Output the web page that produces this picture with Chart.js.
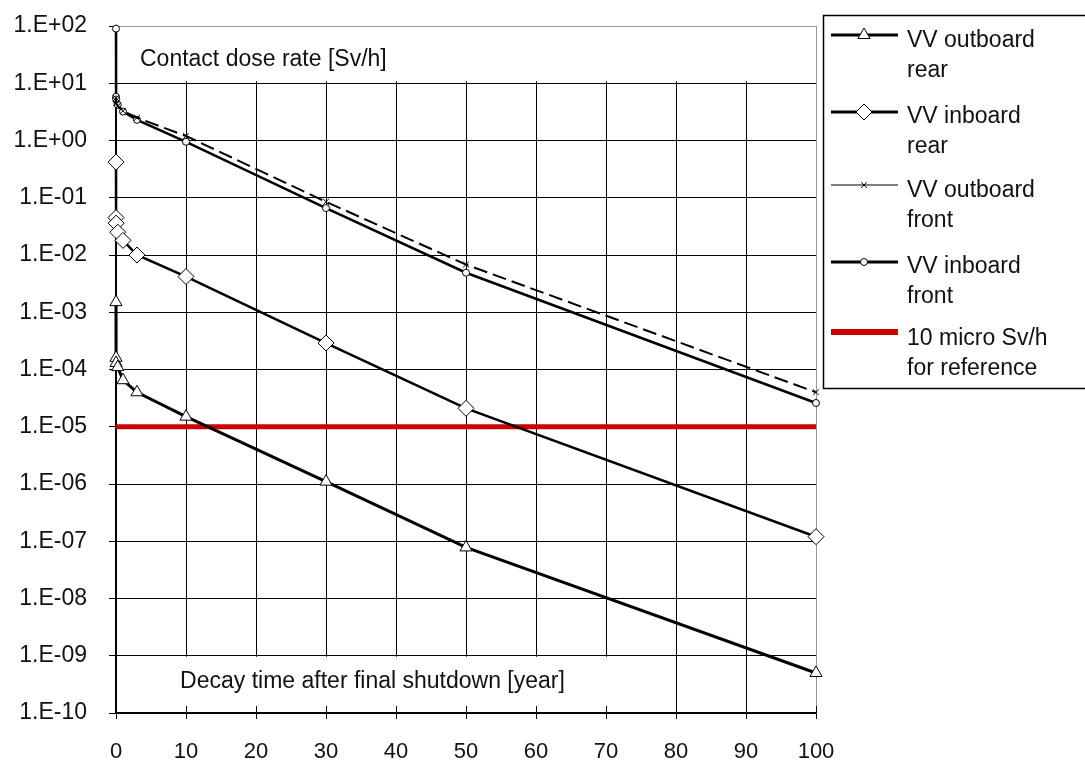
<!DOCTYPE html>
<html>
<head>
<meta charset="utf-8">
<script src="https://cdn.jsdelivr.net/npm/chart.js@4.4.1/dist/chart.umd.min.js"></script>
<style>
  body { margin: 0; background: #fff; }
  #wrap { width: 1085px; height: 760px; position: relative; }
</style>
</head>
<body>
<div id="wrap"><canvas id="chartCanvas"></canvas></div>
<script>
// decay time after final shutdown [year]
var times = [0, 0.001, 0.02, 0.25, 1, 3, 10, 30, 50, 100];

// contact dose rate [Sv/h]
var outboardRear  = [1.5e-3, 1.6e-4, 1.3e-4, 1.1e-4, 6.5e-5, 4.0e-5, 1.5e-5, 1.1e-6, 7.8e-8, 5.0e-10];
var inboardRear   = [0.42, 0.045, 0.036, 0.025, 0.018, 0.010, 4.2e-3, 2.9e-4, 2.1e-5, 1.2e-7];
var outboardFront = [5.5, 5.0, 4.5, 4.0, 3.3, 2.5, 1.2, 0.085, 6.8e-3, 4.0e-5];
var inboardFront  = [90, 5.8, 5.2, 4.2, 3.2, 2.3, 0.95, 0.066, 4.9e-3, 2.6e-5];
var refLimit = 1e-5;
var refRange = [0, 100];

var yTicks = [1e-10, 1e-9, 1e-8, 1e-7, 1e-6, 1e-5, 1e-4, 1e-3, 1e-2, 1e-1, 1, 10, 100];
var xTicks = [0, 10, 20, 30, 40, 50, 60, 70, 80, 90, 100];

var legendLabels = [
    ["VV outboard", "rear"],
    ["VV inboard", "rear"],
    ["VV outboard", "front"],
    ["VV inboard", "front"],
    ["10 micro Sv/h", "for reference"]
];

function toPoints(values) {
    var pts = [];
    for (var i = 0; i < values.length; i++) {
        pts.push({ x: times[i], y: values[i] });
    }
    return pts;
}

function expLabel(v) {
    var e = Math.round(Math.log10(v));
    var s = e < 0 ? "-" : "+";
    var a = Math.abs(e);
    return "1.E" + s + (a < 10 ? "0" + a : a);
}

var FONT = "'Liberation Sans', Arial, sans-serif";
Chart.defaults.font.family = FONT;
Chart.defaults.font.size = 23;
Chart.defaults.color = "#111";

// white boxes with the axis titles, drawn over the grid
var titleBoxes = {
    id: "titleBoxes",
    beforeDatasetsDraw: function (chart) {
        var ctx = chart.ctx;
        var xs = chart.scales.x, ys = chart.scales.y;
        var a = chart.chartArea;
        ctx.save();
        ctx.fillStyle = "#fff";
        ctx.fillRect(a.left + 3, a.top + 1, a.right - a.left - 4, ys.getPixelForValue(10) - a.top - 3);
        var bx = xs.getPixelForValue(8.3);
        ctx.fillRect(bx, ys.getPixelForValue(1e-9) + 1, xs.getPixelForValue(80) - 1 - bx, a.bottom - ys.getPixelForValue(1e-9) - 2);
        // small tick marks on the inner side of the x axis
        ctx.strokeStyle = "#000";
        ctx.lineWidth = 1;
        for (var i = 0; i < xTicks.length; i++) {
            var px = Math.round(xs.getPixelForValue(xTicks[i])) + 0.5;
            ctx.beginPath();
            ctx.moveTo(px, a.bottom - 7);
            ctx.lineTo(px, a.bottom);
            ctx.stroke();
        }
        ctx.fillStyle = "#111";
        ctx.font = "23px " + FONT;
        ctx.textBaseline = "alphabetic";
        ctx.fillText("Contact dose rate [Sv/h]", a.left + 24, 66);
        ctx.fillText("Decay time after final shutdown [year]", bx + 6, 688);
        ctx.restore();
    }
};

// legend box on the right
var sideLegend = {
    id: "sideLegend",
    afterDraw: function (chart) {
        var ctx = chart.ctx;
        var lineY = [35, 112, 185, 262, 332];
        var base1 = [47, 123, 197, 273, 345];
        ctx.save();
        ctx.fillStyle = "#fff";
        ctx.strokeStyle = "#000";
        ctx.lineWidth = 1.5;
        ctx.fillRect(823, 15, 300, 373);
        ctx.strokeRect(823.5, 15.5, 300, 373);
        for (var i = 0; i < chart.data.datasets.length; i++) {
            var ds = chart.data.datasets[i];
            var y = lineY[i];
            ctx.save();
            ctx.strokeStyle = ds.borderColor;
            ctx.lineWidth = ds.legendWidth;
            ctx.setLineDash([]);
            ctx.beginPath();
            ctx.moveTo(831, y);
            ctx.lineTo(898, y);
            ctx.stroke();
            if (ds.pointRadius > 0) {
                ctx.fillStyle = ds.pointBackgroundColor;
                ctx.strokeStyle = ds.pointBorderColor;
                ctx.lineWidth = ds.pointBorderWidth;
                Chart.helpers.drawPoint(ctx, {
                    pointStyle: ds.pointStyle,
                    radius: ds.pointRadius,
                    rotation: 0,
                    borderWidth: ds.pointBorderWidth
                }, 864, y);
            }
            ctx.restore();
            ctx.fillStyle = "#111";
            ctx.font = "23px " + FONT;
            ctx.fillText(legendLabels[i][0], 907, base1[i]);
            ctx.fillText(legendLabels[i][1], 907, base1[i] + 30);
        }
        ctx.restore();
    }
};

var ctx = document.getElementById("chartCanvas").getContext("2d");
new Chart(ctx, {
    type: "line",
    data: {
        datasets: [{
            label: "VV outboard rear",
            data: toPoints(outboardRear),
            borderColor: "#000",
            borderWidth: 3,
            legendWidth: 3,
            pointStyle: "triangle",
            pointRadius: 7,
            pointBackgroundColor: "#fff",
            pointBorderColor: "#000",
            pointBorderWidth: 1,
            clip: false
        }, {
            label: "VV inboard rear",
            data: toPoints(inboardRear),
            borderColor: "#000",
            borderWidth: 2.5,
            legendWidth: 3,
            pointStyle: "rectRot",
            pointRadius: 8,
            pointBackgroundColor: "#fff",
            pointBorderColor: "#000",
            pointBorderWidth: 1,
            clip: false
        }, {
            label: "VV outboard front",
            data: toPoints(outboardFront),
            borderColor: "#000",
            borderWidth: 2,
            borderDash: [14, 6],
            legendWidth: 1,
            pointStyle: "crossRot",
            pointRadius: 4,
            pointBackgroundColor: "#fff",
            pointBorderColor: "#000",
            pointBorderWidth: 1,
            clip: false
        }, {
            label: "VV inboard front",
            data: toPoints(inboardFront),
            borderColor: "#000",
            borderWidth: 2.5,
            legendWidth: 3,
            pointStyle: "circle",
            pointRadius: 3.5,
            pointBackgroundColor: "#fff",
            pointBorderColor: "#000",
            pointBorderWidth: 1,
            clip: false
        }, {
            label: "10 micro Sv/h for reference",
            data: [{ x: refRange[0], y: refLimit }, { x: refRange[1], y: refLimit }],
            borderColor: "#cc0000",
            borderWidth: 5,
            legendWidth: 6,
            pointRadius: 0,
            clip: false
        }]
    },
    options: {
        responsive: true,
        maintainAspectRatio: false,
        animation: false,
        layout: { padding: { top: 26, right: 269, left: 0, bottom: 0 } },
        plugins: {
            legend: { display: false },
            tooltip: { enabled: false }
        },
        elements: { line: { tension: 0 } },
        scales: {
            x: {
                type: "linear",
                min: 0,
                max: 100,
                afterBuildTicks: function (scale) {
                    scale.ticks = xTicks.map(function (v) { return { value: v }; });
                },
                afterFit: function (scale) {
                    scale.height = 47;
                    scale.paddingLeft = 0;
                    scale.paddingRight = 0;
                },
                grid: {
                    color: function (c) { return c.tick && c.tick.value === 100 ? "#999" : "#000"; },
                    tickColor: "#000",
                    tickLength: 6,
                    lineWidth: 1
                },
                border: { color: "#000", width: 1.5 },
                ticks: { padding: 20, maxRotation: 0, color: "#111", font: { size: 22 } }
            },
            y: {
                type: "logarithmic",
                min: 1e-10,
                max: 100,
                afterBuildTicks: function (scale) {
                    scale.ticks = yTicks.map(function (v) { return { value: v, major: true }; });
                },
                afterFit: function (scale) {
                    scale.width = 116;
                    scale.paddingTop = 0;
                    scale.paddingBottom = 0;
                },
                grid: {
                    color: function (c) { return c.tick && c.tick.value === 100 ? "#999" : "#000"; },
                    tickColor: "#000",
                    tickLength: 7,
                    lineWidth: 1
                },
                border: { color: "#000", width: 1.5 },
                ticks: {
                    padding: 22,
                    color: "#111",
                    callback: function (v) { return expLabel(v); }
                }
            }
        }
    },
    plugins: [titleBoxes, sideLegend]
});
</script>
</body>
</html>
